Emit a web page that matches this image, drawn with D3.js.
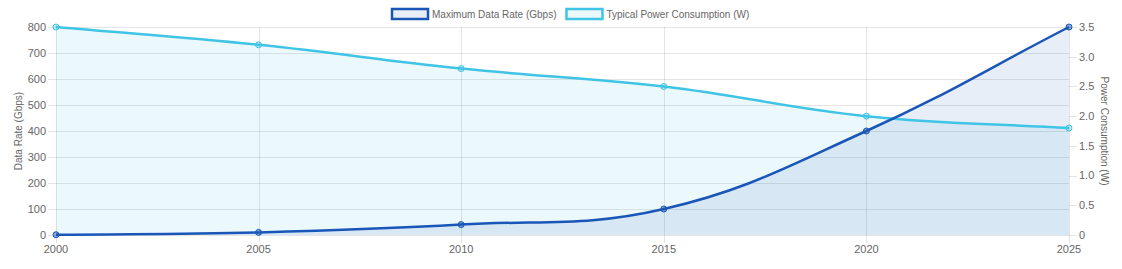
<!DOCTYPE html>
<html>
<head>
<meta charset="utf-8">
<script src="https://cdn.jsdelivr.net/npm/d3@7"></script>
<style>
  body { margin: 0; background: #fff; }
  svg { display: block; font-family: "Liberation Sans", Arial, Helvetica, sans-serif; }
</style>
</head>
<body>
<svg id="chart" width="1122" height="269"></svg>
<script>
var years = [2000, 2005, 2010, 2015, 2020, 2025];
var dataRate = [1, 10, 40, 100, 400, 800];
var powerUse = [3.5, 3.2, 2.8, 2.5, 2.0, 1.8];
var rateTicks = [0, 100, 200, 300, 400, 500, 600, 700, 800];
var powerTicks = [0, 0.5, 1, 1.5, 2, 2.5, 3, 3.5];

var plotLeft = 56, plotRight = 1069, plotTop = 27, plotBottom = 235;
var blue = "#1a56b8", cyan = "#40c4e6";
var gridColor = "rgba(0,0,0,0.1)";
var textColor = "#666";

var svg = d3.select("#chart");

var x = d3.scalePoint().domain(years).range([plotLeft, plotRight]);
var yRate = d3.scaleLinear().domain([0, 800]).range([plotBottom, plotTop]);
var yPower = d3.scaleLinear().domain([0, 3.5]).range([plotBottom, plotTop]);

// chart.js style spline (tension 0.4), returns path string
function spline(pts, closeTo) {
    var t = 0.4;
    var clamp = function (v, lo, hi) { return Math.max(lo, Math.min(hi, v)); };
    var cps = pts.map(function (p, i) {
        var prev = pts[i - 1] || p, next = pts[i + 1] || p;
        var d01 = Math.hypot(p[0] - prev[0], p[1] - prev[1]);
        var d12 = Math.hypot(next[0] - p[0], next[1] - p[1]);
        var s01 = d01 / (d01 + d12) || 0, s12 = d12 / (d01 + d12) || 0;
        var fa = t * s01, fb = t * s12;
        return {
            px: clamp(p[0] - fa * (next[0] - prev[0]), plotLeft, plotRight),
            py: clamp(p[1] - fa * (next[1] - prev[1]), plotTop, plotBottom),
            nx: clamp(p[0] + fb * (next[0] - prev[0]), plotLeft, plotRight),
            ny: clamp(p[1] + fb * (next[1] - prev[1]), plotTop, plotBottom)
        };
    });
    var path = d3.path();
    path.moveTo(pts[0][0], pts[0][1]);
    for (var i = 1; i < pts.length; i++) {
        path.bezierCurveTo(cps[i - 1].nx, cps[i - 1].ny, cps[i].px, cps[i].py, pts[i][0], pts[i][1]);
    }
    if (closeTo !== undefined) {
        path.lineTo(pts[pts.length - 1][0], closeTo);
        path.lineTo(pts[0][0], closeTo);
        path.closePath();
    }
    return path.toString();
}

// grid
var grid = svg.append("g");
grid.selectAll("line.h")
    .data(rateTicks)
    .enter().append("line")
    .attr("x1", plotLeft - 8).attr("x2", plotRight)
    .attr("y1", function (d) { return Math.round(yRate(d)) + 0.5; })
    .attr("y2", function (d) { return Math.round(yRate(d)) + 0.5; })
    .attr("stroke", gridColor);
grid.selectAll("line.v")
    .data(years)
    .enter().append("line")
    .attr("x1", function (d) { return Math.round(x(d)) + 0.5; })
    .attr("x2", function (d) { return Math.round(x(d)) + 0.5; })
    .attr("y1", plotTop).attr("y2", plotBottom + 8)
    .attr("stroke", gridColor);
grid.selectAll("line.r")
    .data(powerTicks)
    .enter().append("line")
    .attr("x1", plotRight).attr("x2", plotRight + 8)
    .attr("y1", function (d) { return Math.round(yPower(d)) + 0.5; })
    .attr("y2", function (d) { return Math.round(yPower(d)) + 0.5; })
    .attr("stroke", gridColor);

var series = [
    { name: "Typical Power Consumption (W)", vals: powerUse, y: yPower, color: cyan, fill: "rgba(64,196,230,0.1)", dot: "rgba(64,196,230,0.35)" },
    { name: "Maximum Data Rate (Gbps)", vals: dataRate, y: yRate, color: blue, fill: "rgba(26,86,180,0.1)", dot: "rgba(26,86,180,0.5)" }
];

series.forEach(function (s) {
    var pts = years.map(function (yr, i) { return [x(yr), s.y(s.vals[i])]; });
    svg.append("path")
        .attr("d", spline(pts, s.y(0)))
        .attr("fill", s.fill);
    s.pts = pts;
});
series.forEach(function (s) {
    svg.append("path")
        .attr("d", spline(s.pts))
        .attr("fill", "none")
        .attr("stroke", s.color)
        .attr("stroke-width", 2.5);
    svg.append("g").selectAll("circle")
        .data(s.pts)
        .enter().append("circle")
        .attr("cx", function (d) { return d[0]; })
        .attr("cy", function (d) { return d[1]; })
        .attr("r", 3)
        .attr("fill", s.dot)
        .attr("stroke", s.color)
        .attr("stroke-width", 1);
});

// axes labels
var lab = svg.append("g").attr("fill", textColor).attr("font-size", 11);
lab.selectAll("text.yl")
    .data(rateTicks)
    .enter().append("text")
    .attr("x", plotLeft - 10)
    .attr("y", function (d) { return yRate(d); })
    .attr("dy", "0.35em")
    .attr("text-anchor", "end")
    .text(function (d) { return d; });
lab.selectAll("text.yr")
    .data(powerTicks)
    .enter().append("text")
    .attr("x", plotRight + 10)
    .attr("y", function (d) { return yPower(d); })
    .attr("dy", "0.35em")
    .text(function (d) { return d === 0 ? "0" : d3.format(".1f")(d); });
lab.selectAll("text.x")
    .data(years)
    .enter().append("text")
    .attr("x", function (d) { return x(d); })
    .attr("y", plotBottom + 18)
    .attr("text-anchor", "middle")
    .text(function (d) { return d; });

lab.append("text")
    .attr("transform", "translate(22," + ((plotTop + plotBottom) / 2) + ") rotate(-90)")
    .attr("text-anchor", "middle")
    .attr("font-size", 10)
    .text("Data Rate (Gbps)");
lab.append("text")
    .attr("transform", "translate(1101," + ((plotTop + plotBottom) / 2) + ") rotate(90)")
    .attr("text-anchor", "middle")
    .attr("font-size", 10)
    .text("Power Consumption (W)");

// legend
var legendItems = [series[1], series[0]];
var legend = svg.append("g").attr("font-size", 10).attr("fill", textColor);
var lx = 391;
legendItems.forEach(function (s) {
    legend.append("rect")
        .attr("x", lx + 1).attr("y", 9)
        .attr("width", 36).attr("height", 10)
        .attr("fill", s.fill)
        .attr("stroke", s.color)
        .attr("stroke-width", 2.5);
    var t = legend.append("text")
        .attr("x", lx + 41).attr("y", 14)
        .attr("dy", "0.35em")
        .text(s.name);
    lx += 41 + t.node().getComputedTextLength() + 9;
});
</script>
</body>
</html>
